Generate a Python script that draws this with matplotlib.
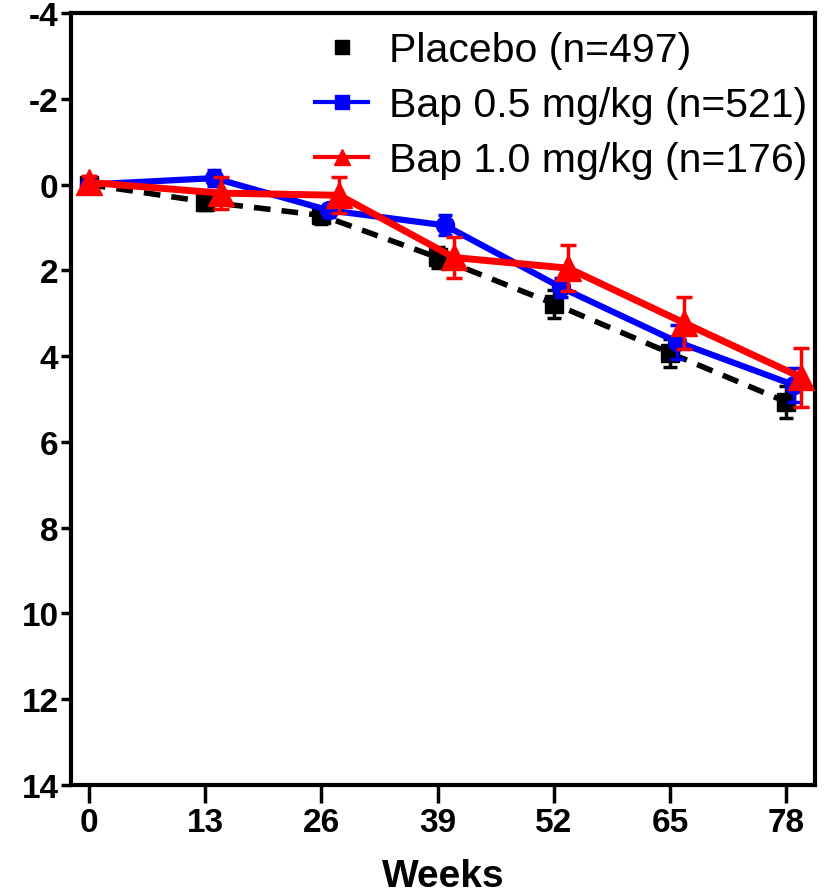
import matplotlib
matplotlib.use("Agg")
import matplotlib.pyplot as plt
from matplotlib.lines import Line2D

plt.rcParams["font.family"] = ["Liberation Sans", "DejaVu Sans"]

weeks = [0, 13, 26, 39, 52, 65, 78]
tick_labels = ["0", "13", "26", "39", "52", "65", "78"]
yticks = [-4, -2, 0, 2, 4, 6, 8, 10, 12, 14]

placebo_x = [0, 13, 26, 39, 52, 65, 78]
placebo = [0.0, 0.40, 0.72, 1.70, 2.78, 3.93, 5.07]
placebo_err = [0.2, 0.2, 0.2, 0.25, 0.33, 0.33, 0.38]

bap05_x = [0, 14, 26.8, 39.8, 52.8, 65.8, 78.8]
bap05 = [0.0, -0.15, 0.60, 0.95, 2.40, 3.67, 4.67]
bap05_err = [0.15, 0.18, 0.15, 0.23, 0.22, 0.40, 0.40]

bap10_x = [0, 14.8, 28, 40.8, 53.6, 66.6, 79.6]
bap10 = [-0.05, 0.20, 0.25, 1.70, 1.95, 3.23, 4.49]
bap10_err = [0.15, 0.37, 0.42, 0.47, 0.53, 0.60, 0.69]

labels = ["Placebo (n=497)", "Bap 0.5 mg/kg (n=521)", "Bap 1.0 mg/kg (n=176)"]

fig = plt.figure(figsize=(8.26, 8.95), dpi=100)
ax = fig.add_axes([71 / 826, 1 - 786 / 895, (815 - 71) / 826, (786 - 14) / 895])

ax.errorbar(placebo_x, placebo, yerr=placebo_err, color="black", linestyle=(0, (3, 2)),
            linewidth=4, marker="s", markersize=13, capsize=5, elinewidth=2.5, capthick=2.5, zorder=2)
ax.errorbar(bap05_x, bap05, yerr=bap05_err, color="blue", linestyle="-",
            linewidth=4.5, marker="o", markersize=13, capsize=5, elinewidth=2.5, capthick=2.5, zorder=3)
ax.errorbar(bap10_x, bap10, yerr=bap10_err, color="red", linestyle="-",
            linewidth=5, marker="^", markersize=19, capsize=6, elinewidth=2.5, capthick=2.5, zorder=4)

ax.set_xlim(-2, 81.2)
ax.set_ylim(14, -4)
ax.set_xticks(weeks)
ax.set_xticklabels(tick_labels)
ax.set_yticks(yticks)
ax.set_yticklabels([str(v) for v in yticks])

for lab in ax.get_xticklabels() + ax.get_yticklabels():
    lab.set_fontweight("bold")
    lab.set_fontsize(24)

ax.tick_params(axis="y", direction="out", length=7, width=2.5, pad=2)
ax.tick_params(axis="x", direction="out", length=13, width=2.5, pad=3)
for s in ax.spines.values():
    s.set_linewidth(3)

ax.set_xlabel("Weeks", fontsize=28, fontweight="bold", labelpad=14)

handles = [
    Line2D([], [], color="black", marker="s", markersize=10, linestyle="none"),
    Line2D([], [], color="blue", marker="s", markersize=10, linewidth=3),
    Line2D([], [], color="red", marker="^", markersize=12, linewidth=3),
]
ax.legend(handles, labels, loc="upper right", bbox_to_anchor=(1.003, 0.99), frameon=False,
          fontsize=29.5, handlelength=1.3, handletextpad=0.5, labelspacing=0.42,
          borderpad=0.0, borderaxespad=0.25)

fig.savefig("out.png", dpi=100)
